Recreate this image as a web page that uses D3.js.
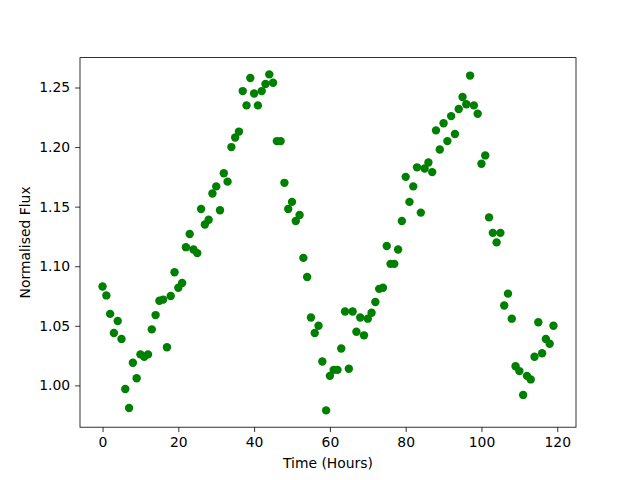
<!DOCTYPE html>
<html><head><meta charset="utf-8">
<script src="https://cdn.jsdelivr.net/npm/d3@7"></script>
<style>body{margin:0;background:#fff}svg{display:block}text{font-family:"DejaVu Sans",sans-serif}</style>
</head><body>
<svg id="c" width="640" height="480"></svg>
<script>
const hours = d3.range(0, 120);
const flux = [
1.083,1.0755,1.060,1.044,1.054,1.039,0.997,0.981,1.019,1.006,
1.026,1.024,1.026,1.047,1.059,1.071,1.072,1.032,1.075,1.095,
1.082,1.086,1.116,1.127,1.114,1.111,1.148,1.135,1.139,1.161,
1.167,1.147,1.178,1.171,1.200,1.208,1.213,1.247,1.235,1.258,
1.245,1.235,1.247,1.253,1.261,1.254,1.205,1.205,1.170,1.148,
1.154,1.138,1.143,1.107,1.091,1.057,1.044,1.050,1.020,0.979,
1.008,1.013,1.013,1.031,1.062,1.014,1.062,1.045,1.057,1.042,
1.056,1.061,1.070,1.081,1.082,1.117,1.102,1.102,1.114,1.138,
1.175,1.154,1.167,1.183,1.145,1.182,1.187,1.179,1.214,1.198,
1.220,1.205,1.226,1.211,1.232,1.242,1.236,1.260,1.235,1.228,
1.186,1.193,1.141,1.128,1.120,1.128,1.067,1.077,1.056,1.016,
1.012,0.992,1.008,1.005,1.024,1.053,1.027,1.039,1.035,1.050
];
const xTicks = [0,20,40,60,80,100,120];
const yTicks = [1.00,1.05,1.10,1.15,1.20,1.25];
const xLabel = "Time (Hours)", yLabel = "Normalised Flux";

const L=80, R=576, T=57.6, B=427.2;
const svg = d3.select("#c");
const xmin=d3.min(hours), xmax=d3.max(hours), xm=(xmax-xmin)*0.05;
const ymin=d3.min(flux), ymax=d3.max(flux), ym=(ymax-ymin)*0.05;
const x = d3.scaleLinear().domain([xmin-xm, xmax+xm]).range([L,R]);
const y = d3.scaleLinear().domain([ymin-ym, ymax+ym]).range([B,T]);

svg.append("g").selectAll("circle").data(hours).join("circle")
  .attr("cx", (d)=>x(d)).attr("cy", (d,i)=>y(flux[i])).attr("r",4.2)
  .attr("fill","#008000");

const xa = svg.append("g").attr("transform",`translate(0,${B})`)
  .call(d3.axisBottom(x).tickValues(xTicks).tickFormat(d3.format("d")).tickSize(4.9).tickPadding(4.9));
const ya = svg.append("g").attr("transform",`translate(${L},0)`)
  .call(d3.axisLeft(y).tickValues(yTicks).tickFormat(d3.format(".2f")).tickSize(4.9).tickPadding(4.9));
[xa,ya].forEach(a=>{a.select(".domain").remove();
  a.selectAll("line").attr("stroke","#000").attr("stroke-width",0.8);
  a.selectAll("text").attr("font-size","13.9px").attr("fill","#000").attr("font-family","DejaVu Sans");});

svg.append("rect").attr("x",L).attr("y",T).attr("width",R-L).attr("height",B-T)
  .attr("fill","none").attr("stroke","#000").attr("stroke-width",0.8);

svg.append("text").attr("x",(L+R)/2).attr("y",468).attr("text-anchor","middle")
  .attr("font-size","13.9px").text(xLabel);
svg.append("text").attr("transform",`translate(30,${(T+B)/2}) rotate(-90)`).attr("text-anchor","middle")
  .attr("font-size","13.9px").text(yLabel);
</script>
</body></html>
